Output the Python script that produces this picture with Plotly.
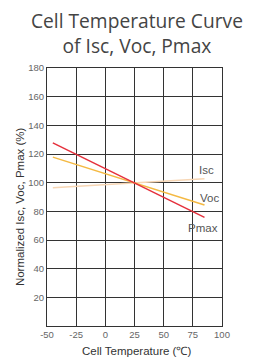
import plotly.graph_objects as go

temps = [-45, 85]
isc = [96.5, 102.8]
voc = [117.8, 84.4]
pmax = [127.8, 75.8]
series_names = ["Isc", "Voc", "Pmax"]
label_x = [87, 89.7, 83.4]
label_y = [108.5, 89, 68.6]
x_ticks = [-50, -25, 0, 25, 50, 75, 100]
x_tick_text = ["-50", "-25", "0", "25", "50", "75", "100"]
y_ticks = [20, 40, 60, 80, 100, 120, 140, 160, 180]
title_lines = ["Cell Temperature Curve", "of Isc, Voc, Pmax"]
x_title = "Cell Temperature (℃)"
y_title = "Normalized Isc, Voc, Pmax (%)"

colors = {"Isc": "#f7d6b4", "Voc": "#f4b942", "Pmax": "#e5303c"}
data = {"Isc": isc, "Voc": voc, "Pmax": pmax}
sans = "Liberation Sans, Arial"

fig = go.Figure()
for name in series_names:
    fig.add_trace(go.Scatter(x=temps, y=data[name], mode="lines",
                             line=dict(color=colors[name], width=1.5),
                             showlegend=False, hoverinfo="skip"))

for name, lx, ly in zip(series_names, label_x, label_y):
    fig.add_annotation(x=lx, y=ly, text=name, showarrow=False,
                       xanchor="center", yanchor="middle",
                       font=dict(family=sans, size=11.5, color="#555"))

# two-line title as one annotation
fig.add_annotation(xref="paper", yref="paper", x=0.517, y=1.135,
                   text="<br>".join(title_lines), showarrow=False,
                   xanchor="center", yanchor="middle", align="center",
                   font=dict(family="Open Sans", size=19.2, color="#444"))

# axis titles
fig.add_annotation(xref="paper", yref="paper", x=0.514, y=-0.097, text=x_title,
                   showarrow=False, xanchor="center", yanchor="middle",
                   font=dict(family=sans, size=11.5, color="#333"))
fig.add_annotation(xref="paper", yref="paper", x=-0.154, y=0.461, text=y_title,
                   showarrow=False, xanchor="center", yanchor="middle", textangle=-90,
                   font=dict(family=sans, size=11.5, color="#333"))

fig.update_layout(
    width=252, height=349,
    margin=dict(l=39, r=38, t=60, b=31, autoexpand=False),
    paper_bgcolor="white", plot_bgcolor="white",
    xaxis=dict(range=[-50, 100], tickvals=x_ticks, ticktext=x_tick_text, showgrid=True,
               gridcolor="#333", gridwidth=1, showline=True, linecolor="#333",
               linewidth=1, mirror=True, zeroline=False, ticks="", automargin=False,
               tickfont=dict(family=sans, size=9.5, color="#666")),
    yaxis=dict(range=[0, 180], tickvals=y_ticks, showgrid=True,
               gridcolor="#333", gridwidth=1, showline=True, linecolor="#333",
               linewidth=1, mirror=True, zeroline=False, ticks="", automargin=False,
               tickfont=dict(family=sans, size=9.5, color="#666")),
)

fig.write_html("out.html")
